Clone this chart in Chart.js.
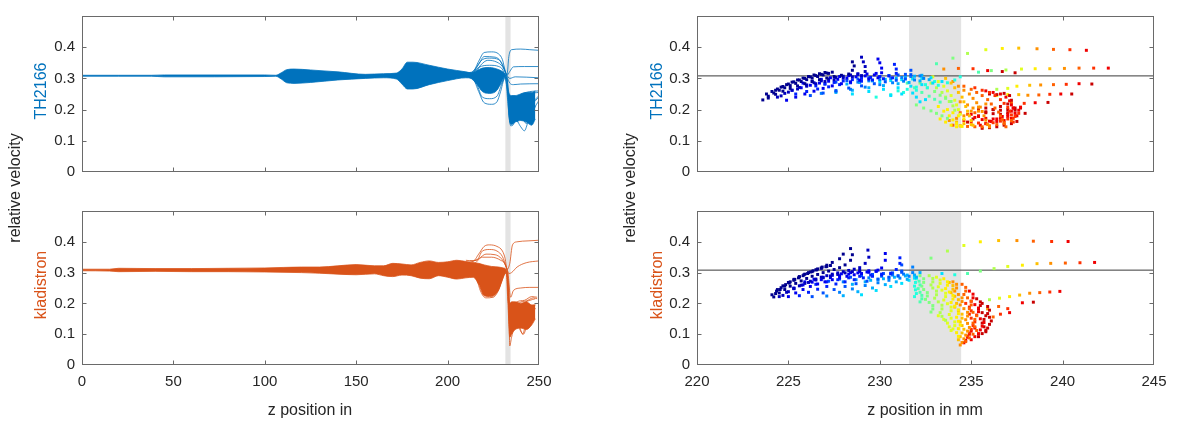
<!DOCTYPE html>
<html>
<head>
<meta charset="utf-8">
<script src="https://cdn.jsdelivr.net/npm/chart.js@4.4.1/dist/chart.umd.min.js"></script>
<style>
  body { margin: 0; width: 1177px; height: 421px; background: #fff; position: relative; overflow: hidden;
         font-family: "Liberation Sans", Arial, sans-serif; }
  canvas { position: absolute; }
  .lbl { position: absolute; white-space: nowrap; font-size: 16px; line-height: 1; color: #262626;
         transform: translate(-50%, -50%); }
  .rot { transform: translate(-50%, -50%) rotate(-90deg); }
</style>
</head>
<body>
<canvas id="thLeft" width="560" height="195" style="left:0;top:0"></canvas>
<canvas id="klLeft" width="560" height="226" style="left:0;top:195px"></canvas>
<canvas id="thRight" width="577" height="195" style="left:600px;top:0"></canvas>
<canvas id="klRight" width="577" height="226" style="left:600px;top:195px"></canvas>

<div class="lbl rot" style="left:15px;top:188px">relative velocity</div>
<div class="lbl rot" style="left:41px;top:91px;color:#0072BD">TH2166</div>
<div class="lbl rot" style="left:41px;top:285px;color:#D95319">kladistron</div>
<div class="lbl" style="left:310px;top:410px">z position in</div>

<div class="lbl rot" style="left:630px;top:188px">relative velocity</div>
<div class="lbl rot" style="left:657px;top:91px;color:#0072BD">TH2166</div>
<div class="lbl rot" style="left:657px;top:285px;color:#D95319">kladistron</div>
<div class="lbl" style="left:925px;top:410px">z position in mm</div>

<script>
// ---- data ----
const bandZ = [231.6, 234.45];     // grey region (mm)
const refLevel = 0.308;            // horizontal reference line
const yTicks = [0, 0.1, 0.2, 0.3, 0.4];
const leftXTicks = [0, 50, 100, 150, 200, 250];
const rightXTicks = [220, 225, 230, 235, 240, 245];

// left column: dense bundle envelope + separate lines near the end
const thZ  = [0, 20, 38, 45, 100, 106, 109, 112, 116, 125, 140, 155, 165, 172, 175, 178, 181, 190, 200, 210, 213, 216, 219, 223, 227, 230, 231.5, 232.5, 233.5, 235, 237, 240, 243, 246, 248];
const thHi = [.310,.310,.310,.311,.311,.310,.318,.328,.330,.327,.321,.313,.315,.317,.330,.352,.352,.342,.330,.321,.318,.325,.333,.335,.330,.322,.314,.300,.255,.245,.245,.25,.255,.255,.26];
const thLo = [.307,.307,.307,.305,.306,.307,.298,.286,.284,.287,.295,.300,.302,.298,.282,.266,.266,.280,.293,.302,.300,.282,.258,.252,.262,.295,.305,.290,.180,.152,.160,.165,.160,.150,.170];
const thLines = [
  [[210,.318],[214,.322],[217,.355],[220,.383],[224,.385],[228,.378],[230,.36],[231.5,.325],[232.5,.312],[233.5,.37],[235,.392],[240,.394],[245,.392],[250,.390]],
  [[210,.316],[214,.320],[217,.345],[220,.370],[226,.368],[229,.355],[231,.33],[232.5,.31],[234,.322],[236,.337],[242,.338],[250,.338]],
  [[211,.314],[215,.318],[218,.342],[222,.358],[227,.352],[230,.338],[232,.315],[234,.300],[237,.305],[243,.304],[250,.302]],
  [[212,.31],[215,.33],[219,.36],[223,.365],[228,.36],[231,.33],[232.5,.305],[234,.285],[236,.28],[240,.282],[250,.283]],
  [[210,.305],[214,.298],[217,.258],[220,.222],[224,.217],[227,.225],[229,.258],[231,.298],[232.5,.302],[233.5,.22],[235,.17],[238,.235],[243,.255],[250,.26]],
  [[212,.305],[216,.28],[219,.24],[223,.235],[227,.243],[229.5,.28],[231.5,.306],[233,.22],[234.5,.148],[236,.152],[238,.19],[241,.222],[245,.25],[250,.255]],
  [[213,.31],[217,.335],[223,.342],[228,.338],[231,.315],[233,.25],[234.5,.16],[237,.17],[240,.145],[242,.132],[244,.16],[247,.2],[250,.23]],
  [[214,.30],[218,.27],[222,.262],[226,.265],[229,.28],[231.5,.303],[233,.26],[234.5,.175],[237,.2],[240,.175],[243,.185],[246,.215],[250,.24]],
  [[234.5,.2],[236,.23],[239,.21],[242,.185],[244,.19],[247,.225],[250,.245]],
  [[234,.16],[236,.2],[238,.16],[240,.19],[243,.155],[245,.175],[248,.21]]
];

const klZ  = [0, 15, 20, 40, 60, 80, 100, 120, 130, 140, 150, 160, 165, 170, 175, 180, 185, 190, 195, 200, 205, 210, 214, 217, 220, 224, 228, 230.5, 232, 233, 234, 235, 237, 240, 243, 246, 248];
const klHi = [.311,.311,.314,.313,.313,.314,.315,.318,.318,.322,.326,.322,.322,.330,.328,.325,.333,.338,.333,.335,.340,.336,.333,.330,.325,.32,.318,.315,.31,.27,.20,.205,.205,.20,.205,.195,.195];
const klLo = [.306,.305,.303,.304,.303,.303,.302,.300,.298,.295,.293,.296,.290,.287,.292,.290,.282,.280,.290,.285,.279,.283,.285,.262,.225,.222,.245,.285,.300,.200,.09,.10,.115,.12,.115,.13,.15];
const klLines = [
  [[210,.34],[214,.338],[217,.36],[220,.385],[223,.39],[227,.385],[230,.37],[231.5,.345],[232.5,.31],[234,.33],[235.5,.39],[238,.40],[244,.403],[250,.405]],
  [[212,.338],[216,.34],[219,.37],[223,.375],[227,.37],[230,.352],[232,.32],[233.5,.297],[235,.30],[238,.318],[243,.332],[250,.338]],
  [[213,.335],[217,.345],[221,.36],[226,.358],[229.5,.345],[231.5,.325],[233,.30],[234.5,.22],[236,.242],[240,.25],[245,.252],[250,.252]],
  [[215,.33],[219,.35],[224,.35],[229,.34],[232,.318],[233.5,.25],[234.5,.1],[236,.15],[239,.2],[243,.208],[247,.218],[249,.215]],
  [[216,.28],[218,.24],[221,.218],[225,.22],[228,.245],[230.5,.29],[232.5,.3],[234,.12],[235.5,.18],[238,.205],[242,.21],[246,.222],[249,.22]],
  [[217,.29],[221,.232],[226,.232],[229.5,.27],[232,.305],[233.5,.2],[234,.062],[235,.09],[238,.15],[241,.1],[243,.14],[246,.19],[248,.195]],
  [[235,.15],[237,.19],[240,.175],[242,.2],[245,.21],[248,.215]],
  [[235,.12],[238,.13],[240,.11],[241.5,.1],[243,.12],[246,.16],[248,.185]]
];

// right column: particle tracks (one colour each) and sparse rows (colour steps along the row)
const thTracks = [
  [[223.6,.231],[223.9,.243],[224.2,.253],[224.5,.262],[224.8,.270],[225.1,.277],[225.4,.284],[225.7,.290],[226.0,.296],[226.3,.301],[226.6,.306],[226.9,.311],[227.2,.316],[227.4,.320]],
  [[224.3,.262],[224.6,.272],[224.9,.280],[225.2,.288],[225.5,.295],[225.8,.301],[226.1,.306],[226.4,.311],[226.7,.315],[227.0,.319]],
  [[223.8,.250],[224.1,.258],[224.4,.266],[224.7,.274],[225.0,.282],[225.3,.289],[225.6,.295],[225.9,.300],[226.2,.305],[226.5,.309],[226.8,.313],[227.1,.317]],
  [[223.9,.237],[224.3,.249],[224.7,.259],[225.1,.268],[225.5,.276],[225.9,.283],[226.3,.290],[226.7,.296],[227.1,.301],[227.5,.306],[227.9,.310],[228.3,.314],[228.5,.326],[228.6,.340],[228.5,.353]],
  [[224.4,.240],[224.8,.252],[225.2,.262],[225.6,.271],[226.0,.279],[226.4,.286],[226.8,.292],[227.2,.298],[227.6,.303],[228.0,.307],[228.4,.311],[228.8,.315]],
  [[224.6,.244],[225.0,.256],[225.5,.266],[226.0,.275],[226.5,.283],[227.0,.290],[227.5,.296],[228.0,.301],[228.5,.305],[229.0,.309],[229.2,.322],[229.2,.338],[229.1,.353],[229.0,.368]],
  [[225.2,.262],[225.7,.270],[226.2,.278],[226.7,.285],[227.2,.291],[227.7,.297],[228.2,.301],[228.7,.305],[229.2,.308],[229.7,.311]],
  [[225.8,.285],[226.3,.291],[226.8,.297],[227.3,.302],[227.8,.306],[228.3,.309],[228.8,.312],[229.3,.314],[229.8,.316]],
  [[224.9,.230],[225.4,.240],[225.9,.250],[226.4,.259],[226.9,.268],[227.4,.276],[227.9,.283],[228.4,.289],[228.9,.294],[229.4,.298],[229.9,.302],[230.1,.318],[230.1,.333],[230.0,.350],[229.9,.362]],
  [[226.5,.276],[227.0,.282],[227.5,.287],[228.0,.292],[228.5,.296],[229.0,.300],[229.5,.303],[230.0,.306],[230.5,.308]],
  [[225.4,.250],[226.0,.258],[226.6,.266],[227.2,.273],[227.8,.280],[228.4,.286],[229.0,.291],[229.6,.295],[230.2,.299],[230.7,.302],[230.9,.316],[230.9,.330],[230.8,.345]],
  [[227.0,.282],[227.6,.288],[228.2,.293],[228.8,.298],[229.4,.302],[230.0,.306],[230.5,.309],[231.0,.311],[231.4,.313]],
  [[226.2,.245],[226.9,.253],[227.6,.261],[228.3,.269],[229.0,.276],[229.7,.283],[230.3,.289],[230.9,.294],[231.4,.298],[231.7,.312],[231.7,.326]],
  [[228.8,.288],[229.4,.292],[230.0,.296],[230.6,.300],[231.2,.303],[231.7,.306],[232.2,.308]],
  [[226.8,.252],[227.6,.258],[228.4,.265],[229.2,.272],[230.0,.280],[230.7,.286],[231.3,.291],[231.9,.295],[232.4,.300]],
  [[228.2,.282],[228.9,.287],[229.6,.292],[230.3,.297],[230.9,.301],[231.4,.304],[231.9,.307],[232.3,.310]],
  [[227.6,.255],[228.5,.262],[229.4,.270],[230.2,.277],[231.0,.283],[231.6,.287],[232.2,.292],[232.7,.296]],
  [[230.0,.290],[230.6,.293],[231.2,.296],[231.8,.298],[232.3,.300],[232.8,.302]],
  [[228.5,.250],[229.4,.258],[230.2,.265],[231.0,.270],[231.7,.275],[232.3,.280],[232.9,.285],[233.4,.290]],
  [[230.6,.245],[231.2,.250],[231.8,.253],[232.0,.240],[232.2,.225],[232.5,.232]],
  [[231.0,.260],[231.5,.265],[232.0,.272],[232.5,.280],[233.0,.290]],
  [[229.8,.240],[230.6,.248],[231.3,.255],[232.0,.262],[232.6,.270],[233.2,.278],[233.7,.286],[234.1,.295],[234.4,.305]],
  [[231.5,.285],[231.9,.270],[232.3,.255],[232.7,.243],[233.0,.233],[233.3,.224]],
  [[231.8,.300],[232.2,.285],[232.6,.270],[233.0,.258],[233.3,.246],[233.6,.236],[233.9,.226]],
  [[232.0,.215],[232.4,.205],[232.8,.196],[233.1,.188],[233.4,.180],[233.7,.172]],
  [[232.4,.300],[232.8,.285],[233.1,.270],[233.4,.255],[233.6,.240],[233.8,.226],[234.0,.212],[234.1,.198]],
  [[232.9,.305],[233.2,.290],[233.5,.275],[233.7,.260],[233.9,.245],[234.1,.230],[234.2,.215],[234.3,.200],[234.4,.185]],
  [[233.2,.210],[233.5,.195],[233.8,.180],[234.0,.167],[234.2,.155],[234.4,.148]],
  [[233.3,.170],[233.6,.160],[233.9,.150],[234.2,.145],[234.5,.146]],
  [[233.7,.200],[234.0,.190],[234.3,.180],[234.6,.170]],
  [[233.6,.300],[233.9,.285],[234.1,.270],[234.3,.255],[234.5,.240],[234.6,.225],[234.7,.210],[234.8,.195],[234.9,.180],[235.0,.165],[235.1,.150]],
  [[234.2,.160],[234.6,.155],[235.0,.152]],
  [[233.8,.165],[234.2,.172],[234.6,.180],[235.0,.195],[235.4,.208],[235.8,.218]],
  [[234.4,.225],[234.8,.215],[235.1,.205],[235.4,.195]],
  [[234.0,.290],[234.3,.275],[234.6,.262],[234.9,.250],[235.1,.236],[235.3,.222],[235.5,.208],[235.6,.194],[235.7,.180],[235.8,.166],[235.9,.152],[236.0,.145]],
  [[234.0,.150],[234.4,.148],[234.8,.146],[235.2,.145],[235.6,.145],[236.0,.148],[236.4,.152],[236.8,.158],[237.2,.165]],
  [[234.4,.190],[234.8,.185],[235.2,.190]],
  [[234.6,.275],[235.0,.265],[235.3,.255],[235.6,.245],[235.9,.232],[236.1,.218],[236.3,.205],[236.5,.192],[236.6,.180],[236.7,.168],[236.8,.155],[236.9,.145]],
  [[234.6,.165],[235.0,.160],[235.4,.157],[235.8,.155],[236.2,.158],[236.6,.163],[237.0,.170],[237.4,.178],[237.6,.188]],
  [[235.2,.270],[235.6,.262],[236.0,.255],[236.3,.245],[236.6,.232],[236.8,.220],[237.0,.207],[237.1,.195],[237.2,.183],[237.3,.172],[237.3,.160]],
  [[235.0,.185],[235.4,.178],[235.8,.172],[236.2,.170],[236.6,.172],[237.0,.178],[237.4,.188],[237.6,.198],[237.7,.208]],
  [[235.2,.175],[235.6,.168],[236.0,.163],[236.4,.162],[236.8,.165],[237.2,.172],[237.5,.180]],
  [[235.8,.260],[236.2,.255],[236.6,.250],[236.9,.240],[237.1,.228],[237.2,.215],[237.3,.205],[237.2,.195],[237.0,.185],[236.7,.178],[236.4,.170],[236.1,.162],[235.8,.155],[235.5,.150]],
  [[236.0,.250],[236.4,.248],[236.8,.252],[237.1,.245],[237.2,.230],[237.0,.218],[236.6,.210],[236.2,.200],[235.8,.190],[235.4,.180],[235.1,.170],[234.8,.160]],
  [[235.4,.200],[235.8,.193],[236.2,.187],[236.6,.185],[237.0,.190],[237.4,.198],[237.7,.205]],
  [[235.6,.140],[236.0,.142],[236.4,.145],[236.8,.150],[237.2,.155],[237.5,.162]],
  [[235.8,.205],[236.2,.200],[236.6,.198],[237.0,.200],[237.4,.205]]
];
const thTrackColor = [0,0,0,0,1,1,2,2,2,3,3,4,4,5,5,6,6,7,7,7,8,8,9,10,10,11,12,13,13,13,14,14,15,15,15,16,16,16,17,17,18,18,18,19,19,19,19];
const thRows = [
  [[233.1,.347],[234.0,.365],[234.8,.380],[235.8,.392],[236.7,.396],[237.6,.397],[238.6,.395],[239.5,.393],[240.4,.392],[241.3,.390]],
  [[233.5,.330],[234.3,.332],[235.1,.331],[235.9,.325],[236.7,.322],[237.4,.318]],
  [[235.4,.320],[236.1,.325],[236.9,.327],[237.75,.330],[238.5,.331],[239.3,.331],[240.1,.332],[240.9,.333],[241.7,.333],[242.5,.333]],
  [[236.4,.265],[237.0,.268],[237.5,.275],[238.2,.278],[238.8,.279],[239.5,.280],[240.2,.281],[240.9,.283],[241.6,.282]],
  [[236.4,.245],[237.0,.248],[237.6,.248],[238.1,.246],[238.7,.247],[239.3,.249],[239.9,.250],[240.5,.250]],
  [[237.2,.222],[237.9,.220],[238.5,.222],[239.2,.223]],
  [[237.3,.205],[237.95,.188]]
];
const thRowStart = [9, 15, 9, 11, 12, 16, 18];

const klTracks = [
  [[224.1,.228],[224.35,.240],[224.6,.251],[224.85,.261],[225.1,.270],[225.35,.278],[225.6,.286],[225.85,.293],[226.1,.300],[226.35,.306],[226.6,.312],[226.85,.318],[227.1,.324],[227.4,.333],[227.8,.345],[228.0,.360]],
  [[224.3,.232],[224.55,.245],[224.8,.256],[225.05,.266],[225.3,.275],[225.55,.283],[225.8,.290],[226.05,.297],[226.3,.303],[226.55,.309],[226.8,.314],[227.05,.319],[227.3,.323]],
  [[224.4,.245],[224.7,.257],[225.0,.268],[225.3,.278],[225.6,.287],[225.9,.295],[226.2,.302],[226.5,.309],[226.8,.315],[227.1,.320]],
  [[224.2,.221],[224.5,.234],[224.8,.245],[225.1,.256],[225.4,.265],[225.7,.273],[226.0,.281],[226.3,.288],[226.6,.294],[226.9,.300],[227.2,.305],[227.5,.310],[227.8,.316],[228.1,.325],[228.4,.340],[228.5,.358],[228.4,.378]],
  [[224.5,.222],[224.9,.236],[225.3,.248],[225.7,.259],[226.1,.268],[226.5,.276],[226.9,.283],[227.3,.289],[227.7,.294],[228.1,.299],[228.5,.303],[228.9,.307]],
  [[224.7,.226],[225.0,.238],[225.3,.248],[225.6,.257],[225.9,.265],[226.2,.272],[226.5,.279],[226.8,.285],[227.1,.290],[227.4,.295],[227.7,.299],[228.0,.303],[228.3,.307],[228.6,.311],[228.9,.316],[229.2,.330],[229.4,.350],[229.35,.373]],
  [[225.3,.250],[225.8,.260],[226.3,.269],[226.8,.277],[227.3,.284],[227.8,.290],[228.3,.295],[228.8,.299],[229.3,.302],[229.8,.305]],
  [[225.9,.270],[226.4,.278],[226.9,.285],[227.4,.291],[227.9,.296],[228.4,.300],[228.9,.303],[229.4,.306],[229.9,.308]],
  [[225.0,.222],[225.4,.234],[225.8,.245],[226.2,.255],[226.6,.263],[227.0,.270],[227.4,.277],[227.8,.283],[228.2,.288],[228.6,.293],[229.0,.297],[229.4,.301],[229.8,.304],[230.1,.315],[230.3,.340],[230.3,.362]],
  [[226.5,.262],[227.1,.270],[227.7,.277],[228.3,.283],[228.9,.288],[229.5,.292],[230.1,.295],[230.6,.298]],
  [[225.6,.225],[226.1,.236],[226.6,.246],[227.1,.255],[227.6,.263],[228.1,.270],[228.6,.277],[229.1,.283],[229.6,.288],[230.1,.292],[230.6,.296],[230.9,.310],[231.1,.330],[231.1,.348]],
  [[227.2,.272],[227.8,.279],[228.4,.285],[229.0,.290],[229.6,.294],[230.2,.297],[230.7,.299],[231.2,.301]],
  [[226.3,.222],[226.9,.234],[227.5,.245],[228.1,.255],[228.7,.264],[229.3,.272],[229.9,.279],[230.5,.285],[231.0,.290],[231.2,.305],[231.2,.325]],
  [[228.0,.270],[228.7,.277],[229.4,.283],[230.1,.288],[230.7,.292],[231.3,.295]],
  [[227.1,.224],[227.8,.236],[228.5,.247],[229.2,.258],[229.9,.267],[230.5,.275],[231.1,.282],[231.6,.288],[231.8,.300],[231.8,.318]],
  [[229.5,.275],[230.2,.280],[230.8,.285],[231.4,.289],[231.9,.292]],
  [[228.5,.262],[229.2,.270],[229.9,.277],[230.5,.283],[231.0,.288],[231.5,.292]],
  [[228.0,.225],[228.8,.238],[229.6,.250],[230.3,.261],[230.9,.270],[231.5,.278],[232.0,.285],[232.2,.300]],
  [[229.0,.228],[229.8,.242],[230.6,.255],[231.2,.265],[231.6,.275],[231.9,.282]],
  [[231.9,.290],[232.0,.280],[231.95,.268],[231.9,.256],[231.95,.244],[232.0,.232],[231.9,.222]],
  [[232.0,.285],[232.15,.272],[232.2,.260],[232.1,.248],[232.2,.236],[232.3,.226],[232.3,.215],[232.2,.205]],
  [[232.2,.290],[232.4,.280],[232.4,.268],[232.3,.256],[232.4,.245],[232.6,.235],[232.6,.224],[232.5,.213],[232.7,.203],[232.9,.193],[232.9,.182],[232.8,.172]],
  [[232.7,.290],[232.9,.281],[232.9,.270],[232.8,.260],[232.9,.250],[233.1,.240],[233.1,.228],[233.0,.217],[233.2,.205],[233.4,.194],[233.4,.182],[233.3,.170],[233.4,.158],[233.6,.145]],
  [[233.1,.285],[233.3,.276],[233.3,.265],[233.2,.254],[233.4,.243],[233.6,.233],[233.6,.222],[233.5,.211],[233.7,.199],[233.9,.188],[233.9,.176],[233.8,.164],[233.9,.152],[234.1,.140],[234.1,.128],[234.0,.117]],
  [[233.2,.160],[233.5,.148],[233.7,.136],[233.8,.124],[233.9,.112]],
  [[233.5,.280],[233.7,.270],[233.7,.259],[233.6,.248],[233.8,.237],[234.0,.226],[234.0,.214],[233.9,.203],[234.1,.191],[234.3,.179],[234.3,.167],[234.2,.155],[234.3,.142],[234.4,.130],[234.3,.118],[234.2,.105],[234.3,.093]],
  [[233.8,.268],[234.0,.258],[234.0,.246],[233.9,.235],[234.1,.223],[234.3,.212],[234.2,.200],[234.1,.188],[234.3,.176],[234.5,.165],[234.5,.152],[234.4,.140],[234.5,.128],[234.6,.116],[234.5,.104],[234.4,.092],[234.3,.082]],
  [[234.0,.270],[234.2,.262],[234.2,.250],[234.1,.240],[234.3,.229],[234.5,.218],[234.5,.206],[234.4,.195],[234.6,.183],[234.8,.171],[234.8,.159],[234.7,.147],[234.8,.135],[234.9,.122],[234.8,.110],[234.7,.097],[234.6,.085],[234.5,.073],[234.4,.065]],
  [[234.5,.262],[234.7,.252],[234.7,.240],[234.6,.229],[234.8,.218],[235.0,.207],[235.0,.195],[234.9,.183],[235.1,.171],[235.3,.160],[235.2,.148],[235.1,.136],[235.2,.124],[235.3,.112],[235.1,.100],[234.9,.088],[234.7,.076]],
  [[234.7,.200],[234.9,.188],[235.0,.176],[234.9,.165],[235.0,.152],[235.2,.140],[235.1,.128],[235.0,.116],[234.9,.104],[234.8,.094]],
  [[234.9,.240],[235.1,.230],[235.1,.218],[235.0,.207],[235.2,.196],[235.4,.185],[235.4,.173],[235.3,.162],[235.5,.150],[235.7,.138],[235.6,.126],[235.5,.114],[235.4,.102],[235.2,.092],[235.0,.082]],
  [[235.2,.120],[235.0,.110],[234.9,.100],[234.8,.090],[234.7,.080],[234.6,.072]],
  [[235.3,.215],[235.5,.205],[235.5,.193],[235.4,.182],[235.6,.170],[235.8,.160],[235.7,.148],[235.6,.136],[235.7,.124],[235.8,.113],[235.6,.102],[235.4,.092]],
  [[235.6,.200],[235.9,.190],[236.0,.178],[235.9,.167],[236.0,.155],[236.1,.143],[236.0,.132],[235.9,.120],[235.8,.108]]
];
const klTrackColor = [0,0,0,0,1,1,2,2,2,3,3,4,4,5,5,6,6,6,7,8,9,10,11,12,12,13,14,15,16,17,18,18,19,19];
const klRows = [
  [[232.8,.347],[233.7,.370],[234.6,.388],[235.5,.400],[236.5,.404],[237.5,.404],[238.4,.402],[239.4,.401],[240.3,.401]],
  [[233.4,.297],[234.1,.293],[234.8,.297],[235.5,.305],[236.25,.313],[237.0,.320],[237.8,.324],[238.6,.329],[239.35,.330],[240.15,.331],[240.95,.332],[241.75,.333]],
  [[236.0,.212],[236.55,.217],[237.1,.222],[237.65,.227],[238.2,.233],[238.75,.235],[239.3,.237],[239.85,.239]],
  [[235.9,.182],[236.5,.190],[237.0,.183],[237.8,.202],[238.4,.204]],
  [[236.2,.156],[236.6,.165],[237.1,.170]]
];
const klRowStart = [10, 7, 11, 15, 16];

// ---- styling / chart setup ----
const jet = ['#00008f','#0000bf','#0000ef','#0020ff','#0050ff','#0080ff','#00b0ff','#00e0ff','#20ffdf','#50ffaf',
             '#80ff80','#b0ff50','#e0ff20','#ffef00','#ffc000','#ff9000','#ff6000','#ff3000','#f00000','#c80000'];
const blue = '#0072BD', orange = '#D95319';
const tickFont = { family: '"Liberation Sans", Arial, sans-serif', size: 15 };

const pts = arr => arr.map(p => ({ x: p[0], y: p[1] }));
const zip = (xs, ys) => xs.map((x, i) => ({ x, y: ys[i] }));

const framePlugin = {
  id: 'frame',
  beforeDatasetsDraw(chart) {
    const { ctx, chartArea: a, scales: { x } } = chart;
    const x0 = x.getPixelForValue(bandZ[0]), x1 = x.getPixelForValue(bandZ[1]);
    ctx.save();
    ctx.fillStyle = '#e3e3e3';
    ctx.fillRect(x0, a.top, x1 - x0, a.bottom - a.top);
    ctx.restore();
  },
  afterDraw(chart) {
    const { ctx, chartArea: a, scales: { x, y } } = chart;
    const L = Math.round(a.left) + 0.5, R = Math.round(a.right) - 0.5;
    const T = Math.round(a.top) + 0.5, B = Math.round(a.bottom) - 0.5;
    ctx.save();
    ctx.strokeStyle = '#6a6a6a';
    ctx.lineWidth = 1;
    ctx.strokeRect(L, T, R - L, B - T);
    ctx.beginPath();
    x.ticks.forEach(t => {
      const px = Math.round(x.getPixelForValue(t.value)) + 0.5;
      if (px <= L + 1 || px >= R - 1) return;
      ctx.moveTo(px, B); ctx.lineTo(px, B - 4);
      ctx.moveTo(px, T); ctx.lineTo(px, T + 4);
    });
    y.ticks.forEach(t => {
      const py = Math.round(y.getPixelForValue(t.value)) + 0.5;
      if (py <= T + 1 || py >= B - 1) return;
      ctx.moveTo(L, py); ctx.lineTo(L + 4, py);
      ctx.moveTo(R, py); ctx.lineTo(R - 4, py);
    });
    ctx.stroke();
    ctx.restore();
  }
};

function makeChart(id, cfg) {
  const { datasets, xMin, xMax, xTicks, showX, yW, padR, padT, xH, padB } = cfg;
  return new Chart(document.getElementById(id), {
    type: 'line',
    data: { datasets },
    options: {
      responsive: false, animation: false, devicePixelRatio: 1, events: [],
      layout: { padding: { left: 0, right: padR, top: padT, bottom: padB } },
      plugins: { legend: { display: false }, tooltip: { enabled: false } },
      scales: {
        x: {
          type: 'linear', min: xMin, max: xMax,
          afterBuildTicks: s => { s.ticks = xTicks.map(v => ({ value: v })); },
          afterFit: s => { s.height = xH; },
          grid: { display: false, drawTicks: false }, border: { display: false },
          ticks: { font: tickFont, color: '#262626', padding: 8, maxRotation: 0,
                   callback: v => showX ? String(v) : '' }
        },
        y: {
          type: 'linear', min: 0, max: 0.5,
          afterBuildTicks: s => { s.ticks = yTicks.map(v => ({ value: v })); },
          afterFit: s => { s.width = yW; },
          grid: { display: false, drawTicks: false }, border: { display: false },
          ticks: { font: tickFont, color: '#262626', padding: 7,
                   callback: v => v === 0 ? '0' : v.toFixed(1) }
        }
      }
    },
    plugins: [framePlugin]
  });
}

function bundleSets(zs, hi, lo, lines, color) {
  const base = { borderColor: color, backgroundColor: color, borderWidth: 0.8, pointRadius: 0,
                 cubicInterpolationMode: 'monotone' };
  const sets = [
    { ...base, data: zip(zs, hi), fill: false },
    { ...base, data: zip(zs, lo), fill: '-1' }
  ];
  lines.forEach(l => sets.push({ ...base, data: pts(l), fill: false }));
  return sets;
}

function scatterSets(tracks, trackColor, rows, rowStart) {
  const dot = { showLine: false, pointStyle: 'rect', pointRadius: 2.1, pointBorderWidth: 0 };
  const sets = tracks.map((t, i) => ({
    ...dot, data: pts(t),
    pointBackgroundColor: jet[trackColor[i]], pointBorderColor: jet[trackColor[i]]
  }));
  rows.forEach((r, i) => {
    const cols = r.map((p, j) => jet[Math.min(rowStart[i] + j, jet.length - 1)]);
    sets.push({ ...dot, data: pts(r), pointBackgroundColor: cols, pointBorderColor: cols });
  });
  sets.push({ data: [{ x: 220, y: refLevel }, { x: 245, y: refLevel }], borderColor: '#3a3a3a',
              borderWidth: 1, pointRadius: 0, fill: false });
  return sets;
}

makeChart('thLeft', {
  datasets: bundleSets(thZ, thHi, thLo, thLines, blue),
  xMin: 0, xMax: 250, xTicks: leftXTicks, showX: false,
  yW: 82, padR: 21, padT: 10, xH: 23, padB: 0
});
makeChart('klLeft', {
  datasets: bundleSets(klZ, klHi, klLo, klLines, orange),
  xMin: 0, xMax: 250, xTicks: leftXTicks, showX: true,
  yW: 82, padR: 21, padT: 9, xH: 30, padB: 26
});
makeChart('thRight', {
  datasets: scatterSets(thTracks, thTrackColor, thRows, thRowStart),
  xMin: 220, xMax: 245, xTicks: rightXTicks, showX: false,
  yW: 97, padR: 23, padT: 10, xH: 23, padB: 0
});
makeChart('klRight', {
  datasets: scatterSets(klTracks, klTrackColor, klRows, klRowStart),
  xMin: 220, xMax: 245, xTicks: rightXTicks, showX: true,
  yW: 97, padR: 23, padT: 9, xH: 30, padB: 26
});
</script>
</body>
</html>
